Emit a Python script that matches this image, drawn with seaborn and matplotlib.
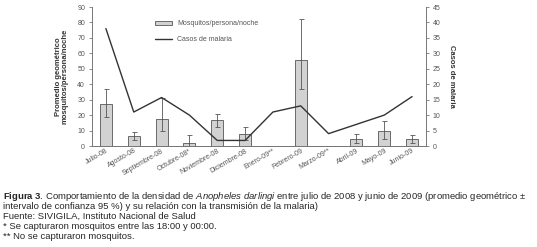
import numpy as np
import pandas as pd
import matplotlib
matplotlib.use("Agg")
import matplotlib.pyplot as plt
import seaborn as sns
from matplotlib.patches import Patch
from matplotlib.lines import Line2D

meses = ["Julio-08", "Agosto-08", "Septiembre-08", "Octubre-08*", "Noviembre-08",
         "Diciembre-08", "Enero-09**", "Febrero-09", "Marzo-09**", "Abril-09",
         "Mayo-09", "Junio-09"]
mosquitos = [27, 6.5, 17.5, 2, 17, 8, 0, 56, 0, 4.5, 9.5, 4.5]
ic_inf = [19, 4, 9.5, 0, 12.5, 4, 0, 37, 0, 2, 4.5, 2]
ic_sup = [37, 9, 31, 7, 21, 12, 0, 82, 0, 7.5, 16.5, 7]
casos = [38, 11, 15.7, 10, 1.8, 1.8, 11, 13, 4, 7, 10, 16]

sns.set_style("white")
plt.rcParams['font.family'] = ['Liberation Sans', 'DejaVu Sans']
plt.rcParams['mathtext.fontset'] = 'custom'
plt.rcParams['mathtext.rm'] = 'Liberation Sans'
plt.rcParams['mathtext.it'] = 'Liberation Sans:italic'
plt.rcParams['mathtext.bf'] = 'Liberation Sans:bold'

df = pd.DataFrame({"mes": meses, "mosq": mosquitos, "lo": ic_inf, "hi": ic_sup, "casos": casos})

fig = plt.figure(figsize=(5.37, 2.47), dpi=100)
ax = fig.add_axes([92/537, 1 - 146/247, (426 - 92)/537, (146 - 7)/247])

sns.barplot(data=df, x="mes", y="mosq", ax=ax, color="#d2d2d2", edgecolor="#6a6a6a",
            linewidth=0.7, width=0.43, saturation=1)
has = df["mosq"] > 0
sub = df[has]
ax.errorbar(sub["mes"], sub["mosq"],
            yerr=[sub["mosq"] - sub["lo"], sub["hi"] - sub["mosq"]],
            fmt="none", ecolor="#555555", elinewidth=0.6, capsize=1.8, capthick=0.6)

ax.set_ylim(0, 90)
ax.set_yticks(np.arange(0, 91, 10))
ax.set_xlim(-0.5, len(meses) - 0.5)
ax.set_xlabel("")
ax.set_ylabel("Promedio geométrico\nmosquitos/persona/noche", fontsize=5.5,
              fontweight="bold", color="#333333", labelpad=6, linespacing=1.0)

ax2 = ax.twinx()
sns.lineplot(x=df["mes"], y=df["casos"], ax=ax2, color="#333333", linewidth=1.0, sort=False)
ax2.set_ylim(0, 45)
ax2.set_yticks(np.arange(0, 46, 5))
ax2.set_ylabel("Casos de malaria", fontsize=5.5, fontweight="bold", color="#333333",
               rotation=270, labelpad=10)
ax2.set_xlabel("")

for a in (ax, ax2):
    for s in a.spines.values():
        s.set_color("#777777")
        s.set_linewidth(0.7)
    a.spines["top"].set_visible(False)
    a.tick_params(axis="y", labelsize=5, colors="#777777", length=2, width=0.6, pad=3)
    a.grid(False)
ax.spines["right"].set_visible(False)
ax2.spines["left"].set_visible(False)
for lab in ax.get_yticklabels() + ax2.get_yticklabels():
    lab.set_color("#555555")

ax.tick_params(axis="x", length=0, pad=1)
ax.set_xticks(range(len(meses)))
ax.set_xticklabels(meses, rotation=30, ha="right", rotation_mode="anchor",
                   fontsize=5, color="#555555")
ax.set_xticks(np.arange(0.5, len(meses) - 0.5, 1), minor=True)
ax.tick_params(axis="x", which="minor", length=2.5, width=0.6, color="#777777", direction="out")

handles = [Patch(facecolor="#d2d2d2", edgecolor="#6a6a6a", linewidth=0.7),
           Line2D([], [], color="#333333", linewidth=1.0)]
ax.legend(handles, ["Mosquitos/persona/noche", "Casos de malaria"],
          loc="upper left", bbox_to_anchor=(0.17, 0.95), frameon=False,
          fontsize=5, handlelength=2.4, handleheight=0.6, labelspacing=1.3,
          labelcolor="#555555")

cap_fs = 6.8
y0 = 1 - 196/247
dy = 10/247
fig.text(3/537, y0, r"$\bf{Figura\ 3}$. Comportamiento de la densidad de $\it{Anopheles\ darlingi}$ entre julio de 2008 y junio de 2009 (promedio geométrico ±",
         fontsize=cap_fs, va="center", ha="left")
fig.text(3/537, y0 - dy, "intervalo de confianza 95 %) y su relación con la transmisión de la malaria)",
         fontsize=cap_fs, va="center", ha="left")
fig.text(3/537, y0 - 2*dy, "Fuente: SIVIGILA, Instituto Nacional de Salud",
         fontsize=cap_fs, va="center", ha="left")
fig.text(3/537, y0 - 3*dy, "* Se capturaron mosquitos entre las 18:00 y 00:00.",
         fontsize=cap_fs, va="center", ha="left")
fig.text(3/537, y0 - 4*dy, "** No se capturaron mosquitos.",
         fontsize=cap_fs, va="center", ha="left")

fig.savefig("out.png", dpi=100, facecolor="white")
